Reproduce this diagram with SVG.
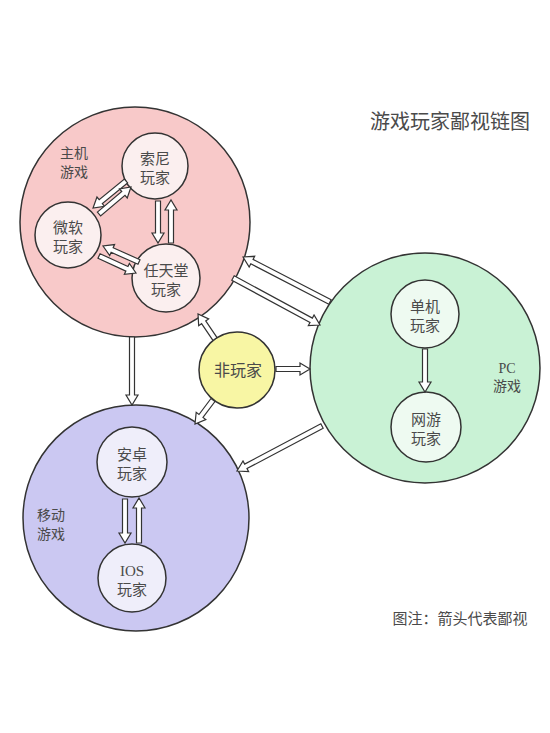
<svg xmlns="http://www.w3.org/2000/svg" width="550" height="733" viewBox="0 0 550 733">
<style>
.big{stroke:#333;stroke-width:1.5}
.sm{stroke:#333;stroke-width:1.5}
.t{font-family:"Noto Sans CJK SC","Noto Sans",sans-serif;fill:#4a4a4a;text-anchor:middle}
.arr{fill:#fff;stroke:#333;stroke-width:1.2;stroke-linejoin:miter}
</style>
<rect width="550" height="733" fill="#fff"/>
<g id="console">
<circle class="big" cx="135" cy="222" r="115" fill="#f8c9c9"/>
<text class="t" x="74" y="158" font-size="14">主机</text>
<text class="t" x="74" y="177" font-size="14">游戏</text>
</g>
<g id="pc">
<circle class="big" cx="425" cy="368" r="115" fill="#c9f2d5"/>
<text class="t" x="507" y="373" font-size="14" style="font-family:'Liberation Serif',serif">PC</text>
<text class="t" x="507" y="391" font-size="14">游戏</text>
</g>
<g id="mobile">
<circle class="big" cx="136" cy="518" r="113" fill="#cbc8f2"/>
<text class="t" x="51" y="520" font-size="14">移动</text>
<text class="t" x="51" y="539" font-size="14">游戏</text>
</g>
<g id="sony">
<circle class="sm" cx="155" cy="166" r="33" fill="#fbefef"/>
<text class="t" x="155" y="164" font-size="15">索尼</text>
<text class="t" x="155" y="183" font-size="15">玩家</text>
</g>
<g id="microsoft">
<circle class="sm" cx="68" cy="235" r="33" fill="#fbefef"/>
<text class="t" x="68" y="233" font-size="15">微软</text>
<text class="t" x="68" y="252" font-size="15">玩家</text>
</g>
<g id="nintendo">
<circle class="sm" cx="166" cy="278" r="34" fill="#fbefef"/>
<text class="t" x="166" y="276" font-size="15">任天堂</text>
<text class="t" x="166" y="295" font-size="15">玩家</text>
</g>
<g id="single">
<circle class="sm" cx="425" cy="314" r="34" fill="#eefaf1"/>
<text class="t" x="425" y="312" font-size="15">单机</text>
<text class="t" x="425" y="331" font-size="15">玩家</text>
</g>
<g id="online">
<circle class="sm" cx="426" cy="427" r="35" fill="#eefaf1"/>
<text class="t" x="426" y="425" font-size="15">网游</text>
<text class="t" x="426" y="444" font-size="15">玩家</text>
</g>
<g id="android">
<circle class="sm" cx="132" cy="462" r="35" fill="#efeefa"/>
<text class="t" x="132" y="460" font-size="15">安卓</text>
<text class="t" x="132" y="479" font-size="15">玩家</text>
</g>
<g id="ios">
<circle class="sm" cx="132" cy="578" r="34" fill="#efeefa"/>
<text class="t" x="132" y="576" font-size="15" style="font-family:'Liberation Serif',serif">IOS</text>
<text class="t" x="132" y="595" font-size="15">玩家</text>
</g>
<g id="nonplayer">
<circle class="sm" cx="237" cy="370" r="38" fill="#f8f6a4"/>
<text class="t" x="238" y="376" font-size="16">非玩家</text>
</g>
<g id="connectors">
<polygon class="arr" transform="translate(126,181) rotate(140.7)" points="0,-2.5 32.6,-2.5 32.6,-6 42.6,0 32.6,6 32.6,2.5 0,2.5"/>
<polygon class="arr" transform="translate(99,214) rotate(-40.2)" points="0,-2.5 31.9,-2.5 31.9,-6 41.9,0 31.9,6 31.9,2.5 0,2.5"/>
<polygon class="arr" transform="translate(158,201) rotate(90)" points="0,-2.5 32,-2.5 32,-6 42,0 32,6 32,2.5 0,2.5"/>
<polygon class="arr" transform="translate(171,243) rotate(-90)" points="0,-2.5 33,-2.5 33,-6 43,0 33,6 33,2.5 0,2.5"/>
<polygon class="arr" transform="translate(139,262) rotate(-156)" points="0,-2.5 29.4,-2.5 29.4,-6 39.4,0 29.4,6 29.4,2.5 0,2.5"/>
<polygon class="arr" transform="translate(99,256) rotate(24.7)" points="0,-2.5 30.7,-2.5 30.7,-6 40.7,0 30.7,6 30.7,2.5 0,2.5"/>
<polygon class="arr" transform="translate(330,302) rotate(-152.65)" points="0,-2.5 87.9,-2.5 87.9,-6 97.9,0 87.9,6 87.9,2.5 0,2.5"/>
<polygon class="arr" transform="translate(233,278) rotate(28.4)" points="0,-2.5 88.9,-2.5 88.9,-6 98.9,0 88.9,6 88.9,2.5 0,2.5"/>
<polygon class="arr" transform="translate(215,339) rotate(-124.2)" points="0,-2.5 20.2,-2.5 20.2,-6 30.2,0 20.2,6 20.2,2.5 0,2.5"/>
<polygon class="arr" transform="translate(276,369) rotate(0)" points="0,-2.5 24,-2.5 24,-6 34,0 24,6 24,2.5 0,2.5"/>
<polygon class="arr" transform="translate(213,400) rotate(126.9)" points="0,-2.5 20,-2.5 20,-6 30,0 20,6 20,2.5 0,2.5"/>
<polygon class="arr" transform="translate(132,337) rotate(90)" points="0,-2.5 58,-2.5 58,-6 68,0 58,6 58,2.5 0,2.5"/>
<polygon class="arr" transform="translate(322,426) rotate(152.1)" points="0,-2.5 86.2,-2.5 86.2,-6 96.2,0 86.2,6 86.2,2.5 0,2.5"/>
<polygon class="arr" transform="translate(425,349) rotate(90)" points="0,-2.5 33,-2.5 33,-6 43,0 33,6 33,2.5 0,2.5"/>
<polygon class="arr" transform="translate(125,499) rotate(90)" points="0,-2.5 34,-2.5 34,-6 44,0 34,6 34,2.5 0,2.5"/>
<polygon class="arr" transform="translate(139,543) rotate(-90)" points="0,-2.5 35,-2.5 35,-6 45,0 35,6 35,2.5 0,2.5"/>
</g>
<text class="t" x="450" y="129" font-size="20">游戏玩家鄙视链图</text>
<text class="t" x="460" y="624" font-size="15">图注：箭头代表鄙视</text>
</svg>
